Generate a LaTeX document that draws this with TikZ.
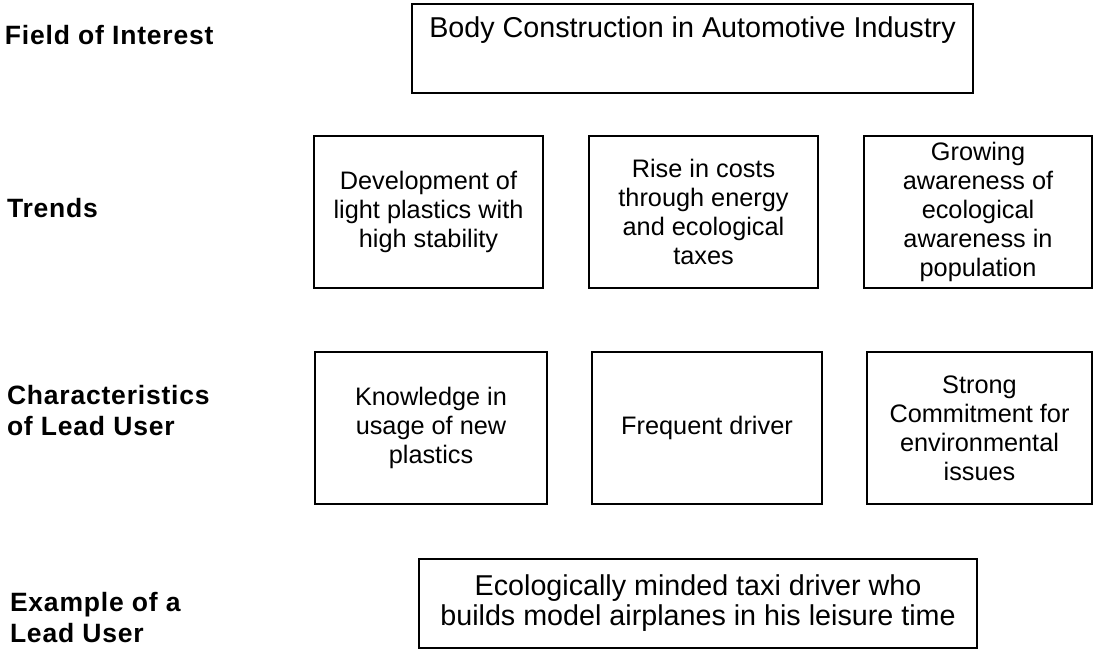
\documentclass[tikz,border=0pt]{standalone}
\usepackage{fontspec}
\setmainfont{Liberation Sans}
\newfontfamily\labelfont{Liberation Sans}[LetterSpace=3]
\usetikzlibrary{positioning}

\begin{document}
\begin{tikzpicture}[x=1pt,y=-1pt,every node/.style={inner sep=0,outer sep=0},
	box/.style={draw,line width=1.3pt,rectangle,align=center,minimum height=152pt,font=\fontsize{25.3}{29}\selectfont},
	bigbox/.style={draw,line width=1.3pt,rectangle,align=center,minimum height=89pt,font=\fontsize{28.7}{30}\selectfont},
	rowlabel/.style={anchor=base west,align=left,font=\labelfont\bfseries\fontsize{26.5}{31}\selectfont}]
	\useasboundingbox (0,0) rectangle (1094,651);
	% row labels
	\node (foilabel) [rowlabel] at (5,44) {Field of Interest};
	\node (trendlabel) [rowlabel] at (7,217) {Trends};
	\node (charlabel) [rowlabel] at (7,435) {Characteristics\\of Lead User};
	\node (exlabel) [rowlabel] at (10,642) {Example of a\\Lead User};
	% field of interest
	\node (foi) [bigbox,minimum width=561pt] at (692.5,48.5) {};
	\node (foitext) [anchor=base,font=\fontsize{28.7}{30}\selectfont] at ([yshift=-33pt]foi.north) {Body Construction in Automotive Industry};
	% trends
	\node (t1) [box,minimum width=229pt] at (428.5,212) {Development of\\light plastics with\\high stability};
	\node (t2) [box,minimum width=229pt] at (703.5,212) {Rise in costs\\through energy\\and ecological\\taxes};
	\node (t3) [box,minimum width=228pt] at (978,212) {Growing\\awareness of\\ecological\\awareness in\\population};
	% characteristics
	\node (c1) [box,minimum width=232pt] at (431,428) {Knowledge in\\usage of new\\plastics};
	\node (c2) [box,minimum width=230pt] at (707,428) {Frequent driver};
	\node (c3) [box,minimum width=225pt] at (979.5,428) {Strong\\Commitment for\\environmental\\issues};
	% example
	\node (ex) [bigbox,minimum width=558pt] at (698,603.5) {Ecologically minded taxi driver who\\builds model airplanes in his leisure time};
\end{tikzpicture}
\end{document}
